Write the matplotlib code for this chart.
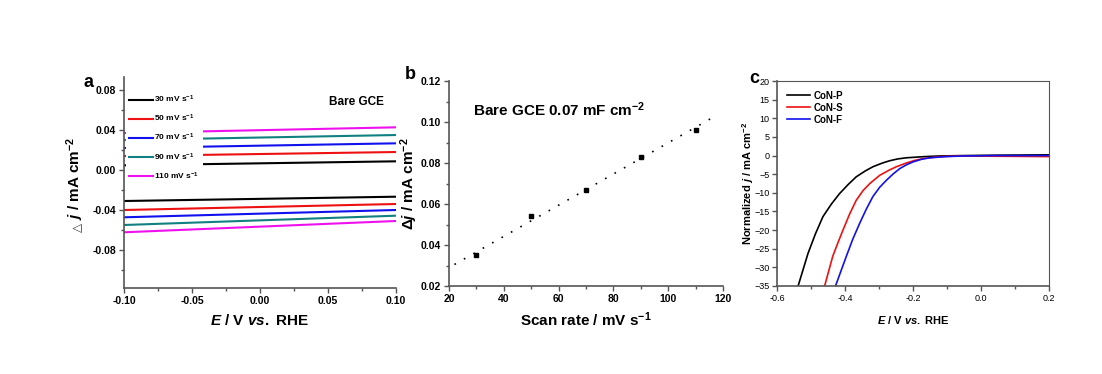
#!/usr/bin/env python3
"""
Three panel figure: CV double-layer currents, capacitance fit and
normalised polarisation curves.
"""
import matplotlib
matplotlib.use('Agg')
import matplotlib.pyplot as plt
from matplotlib.ticker import MultipleLocator

plt.rcParams['font.family'] = ['Liberation Sans', 'DejaVu Sans']
plt.rcParams['mathtext.fontset'] = 'custom'
plt.rcParams['mathtext.rm'] = 'Liberation Sans:bold'
plt.rcParams['mathtext.it'] = 'Liberation Sans:bold:italic'
plt.rcParams['mathtext.bf'] = 'Liberation Sans:bold'

# panel a: anodic / cathodic current at the window edges
pot_a = [-0.10, 0.10]
rates = ['30', '50', '70', '90', '110']
upper = [[0.0047, 0.0087], [0.014, 0.018], [0.022, 0.0267],
         [0.030, 0.035], [0.037, 0.0427]]
lower = [[-0.031, -0.0267], [-0.040, -0.034], [-0.0473, -0.040],
         [-0.055, -0.0457], [-0.0623, -0.051]]
colors_a = ['#000000', '#ee1111', '#1111ee', '#118080', '#ee11ee']

# panel b: scan rate vs current difference
scan_rate = [30, 50, 70, 90, 110]
delta_j = [0.035, 0.054, 0.067, 0.083, 0.096]
fit_x = [22, 116]
fit_y = [0.0305, 0.102]

# panel c: normalised polarisation curves
e_p = [-0.538, -0.509, -0.487, -0.465, -0.44, -0.416, -0.39, -0.367, -0.34,
       -0.318, -0.29, -0.269, -0.245, -0.22, -0.17, -0.12, -0.05, 0.05, 0.2]
j_p = [-35, -26.3, -21.0, -16.4, -13.0, -10.2, -7.7, -5.7, -4.1,
       -3.0, -2.0, -1.4, -0.9, -0.6, -0.3, -0.1, 0.0, 0.1, 0.2]
e_s = [-0.46, -0.448, -0.436, -0.42, -0.406, -0.387, -0.367, -0.347, -0.327,
       -0.298, -0.27, -0.249, -0.22, -0.195, -0.17, -0.12, -0.07, 0.0, 0.2]
j_s = [-35, -31.0, -27.0, -23.2, -20.0, -15.8, -12.0, -9.4, -7.5,
       -5.3, -3.9, -3.0, -2.0, -1.3, -0.8, -0.27, -0.1, -0.15, -0.27]
e_f = [-0.428, -0.412, -0.396, -0.377, -0.357, -0.337, -0.318, -0.298, -0.278,
       -0.258, -0.239, -0.22, -0.2, -0.175, -0.151, -0.102, -0.05, 0.05, 0.2]
j_f = [-35, -31.0, -27.0, -22.4, -18.2, -14.3, -11.0, -8.5, -6.6,
       -4.9, -3.5, -2.5, -1.7, -1.0, -0.6, -0.27, -0.1, 0.0, 0.0]
curve_names = ['CoN-P', 'CoN-S', 'CoN-F']
colors_c = ['#000000', '#ee1111', '#1111ee']

spine_col = '#555555'


def style_axes(ax, tick_size, bold=True):
    for s in ['top', 'right']:
        ax.spines[s].set_visible(False)
    for s in ['left', 'bottom']:
        ax.spines[s].set_color(spine_col)
        ax.spines[s].set_linewidth(1.2)
    ax.tick_params(which='both', direction='out', color=spine_col,
                   labelsize=tick_size, width=1.0, pad=2)
    ax.tick_params(which='major', length=3.5)
    ax.tick_params(which='minor', length=2)
    for lab in ax.get_xticklabels() + ax.get_yticklabels():
        lab.set_fontweight('bold' if bold else 'normal')


fig = plt.figure(figsize=(11.02, 3.74), dpi=100)
ax_a = fig.add_axes([0.1125, 0.23, 0.2468, 0.564])
ax_b = fig.add_axes([0.4074, 0.2353, 0.2486, 0.548])
ax_c = fig.add_axes([0.7051, 0.2353, 0.2468, 0.548])

# ---- panel a
for i, r in enumerate(rates):
    ax_a.plot(pot_a, upper[i], color=colors_a[i], lw=1.5,
              label=r + ' mV s$^{-1}$')
    ax_a.plot(pot_a, lower[i], color=colors_a[i], lw=1.5)
ax_a.set_xlim(-0.1, 0.1)
ax_a.set_ylim(-0.118, 0.093)
ax_a.xaxis.set_major_locator(MultipleLocator(0.05))
ax_a.xaxis.set_minor_locator(MultipleLocator(0.025))
ax_a.yaxis.set_major_locator(MultipleLocator(0.04))
ax_a.yaxis.set_minor_locator(MultipleLocator(0.02))
ax_a.xaxis.set_major_formatter(plt.FormatStrFormatter('%.2f'))
ax_a.yaxis.set_major_formatter(plt.FormatStrFormatter('%.2f'))
style_axes(ax_a, 7.5)
ax_a.set_xlabel('$\\mathit{E}$ / V $\\mathit{vs.}$ RHE', fontsize=11,
                fontweight='bold', labelpad=5)
ax_a.set_ylabel('$\\mathit{j}$ / mA cm$^{-2}$', fontsize=11,
                fontweight='bold')
ax_a.yaxis.set_label_coords(-0.14, 0.52)
# small open triangle in front of j, as in the original label
fig.text(78 / 1102, 1 - 227 / 374, '\u25b3', family='DejaVu Sans',
         fontsize=8.5, rotation=90, color='#333333', ha='center',
         va='center')
leg = ax_a.legend(loc='upper left', bbox_to_anchor=(0.0, 0.945), fontsize=6,
                  frameon=True, handlelength=2.9, labelspacing=0.95,
                  borderaxespad=0.2, handletextpad=0.15, borderpad=0.4)
leg.get_frame().set_edgecolor('none')
leg.get_frame().set_facecolor('white')
leg.get_frame().set_alpha(1)
for t in leg.get_texts():
    t.set_fontweight('bold')
ax_a.text(0.955, 0.88, 'Bare GCE', transform=ax_a.transAxes, ha='right',
          va='center', fontsize=8.5, fontweight='bold')
fig.text(0.080, 0.78, 'a', fontsize=13, fontweight='bold', ha='center',
         va='center')

# ---- panel b
ax_b.plot(fit_x, fit_y, color='black', lw=1.2, linestyle=(0, (1, 5.5)))
ax_b.plot(scan_rate, delta_j, 's', color='black', ms=3.2)
ax_b.set_xlim(20, 120)
ax_b.set_ylim(0.02, 0.12)
ax_b.xaxis.set_major_locator(MultipleLocator(20))
ax_b.xaxis.set_minor_locator(MultipleLocator(10))
ax_b.yaxis.set_major_locator(MultipleLocator(0.02))
ax_b.yaxis.set_minor_locator(MultipleLocator(0.01))
ax_b.yaxis.set_major_formatter(plt.FormatStrFormatter('%.2f'))
style_axes(ax_b, 7.5)
ax_b.set_xlabel('Scan rate / mV s$^{-1}$', fontsize=11, fontweight='bold',
                labelpad=5)
ax_b.set_ylabel('\u0394$\\mathit{j}$ / mA cm$^{-2}$', fontsize=11,
                fontweight='bold', labelpad=1)
ax_b.text(0.088, 0.86, 'Bare GCE 0.07 mF cm$^{-2}$', transform=ax_b.transAxes,
          ha='left', va='center', fontsize=11, fontweight='bold')
fig.text(0.372, 0.80, 'b', fontsize=13, fontweight='bold', ha='center',
         va='center')

# ---- panel c
for e, j, name, col in zip([e_p, e_s, e_f], [j_p, j_s, j_f], curve_names,
                           colors_c):
    ax_c.plot(e, j, color=col, lw=1.2, label=name)
ax_c.set_xlim(-0.6, 0.2)
ax_c.set_ylim(-35, 20)
ax_c.xaxis.set_major_locator(MultipleLocator(0.2))
ax_c.xaxis.set_minor_locator(MultipleLocator(0.1))
ax_c.yaxis.set_major_locator(MultipleLocator(5))
ax_c.xaxis.set_major_formatter(plt.FormatStrFormatter('%.1f'))
style_axes(ax_c, 6.5, bold=False)
ax_c.spines['top'].set_visible(True)
ax_c.spines['right'].set_visible(True)
ax_c.spines['top'].set_color(spine_col)
ax_c.spines['right'].set_color(spine_col)
ax_c.set_xlabel('$\\mathit{E}$ / V $\\mathit{vs.}$ RHE', fontsize=8,
                fontweight='bold', labelpad=8)
ax_c.set_ylabel('Normalized $\\mathit{j}$ / mA cm$^{-2}$', fontsize=8,
                fontweight='bold', labelpad=-1)
leg_c = ax_c.legend(loc='upper left', fontsize=7, frameon=False,
                    handlelength=2.4, labelspacing=0.2, borderaxespad=0.6,
                    handletextpad=0.4)
for t in leg_c.get_texts():
    t.set_fontweight('bold')
fig.text(0.684, 0.79, 'c', fontsize=13, fontweight='bold', ha='center',
         va='center')

fig.savefig('out.png', dpi=100)
